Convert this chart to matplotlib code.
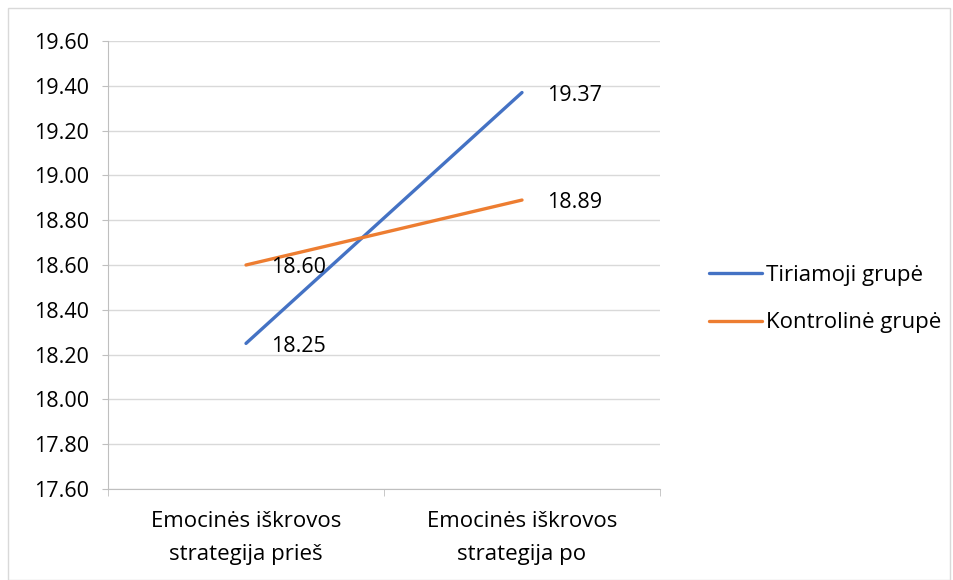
import matplotlib.pyplot as plt
from matplotlib.patches import Rectangle

plt.rcParams['font.family'] = ['Open Sans', 'DejaVu Sans']

categories = ['Emocinės iškrovos\nstrategija prieš', 'Emocinės iškrovos\nstrategija po']
tiriamoji = [18.25, 19.37]
kontroline = [18.60, 18.89]
series_names = ['Tiriamoji grupė', 'Kontrolinė grupė']
yticks = [17.60, 17.80, 18.00, 18.20, 18.40, 18.60, 18.80, 19.00, 19.20, 19.40, 19.60]

W, H = 954, 580
fig = plt.figure(figsize=(W / 100, H / 100), dpi=100)

# outer chart border
fig.patches.append(Rectangle((8 / W, 0), 942 / W, 572 / H, transform=fig.transFigure,
                             fill=False, edgecolor='#d9d9d9', linewidth=1))

ax = fig.add_axes([108 / W, (H - 489) / H, 552 / W, 448 / H])

x = [0.5, 1.5]
blue = '#4472C4'
orange = '#ED7D31'
ax.plot(x, tiriamoji, color=blue, linewidth=2.4, label=series_names[0], solid_capstyle='round')
ax.plot(x, kontroline, color=orange, linewidth=2.4, label=series_names[1], solid_capstyle='round')

for series in (tiriamoji, kontroline):
    for xi, v in zip(x, series):
        ax.annotate(f'{v:.2f}', (xi, v), xytext=(18, -2), textcoords='offset points',
                    ha='left', va='center', fontsize=15.5, color='black')

ax.set_xlim(0, 2)
ax.set_ylim(17.60, 19.60)
ax.set_yticks(yticks)
ax.set_yticklabels([f'{t:.2f}' for t in yticks])
ax.yaxis.grid(True, color='#d9d9d9', linewidth=1)
ax.set_axisbelow(True)

ax.set_xticks(x)
ax.set_xticklabels(categories, fontsize=16, linespacing=1.75)
ax.set_xticks([0, 1, 2], minor=True)
ax.tick_params(axis='x', which='major', length=0, pad=16)
ax.tick_params(axis='x', which='minor', length=5, color='#bfbfbf', direction='out')
ax.tick_params(axis='y', length=4.5, color='#bfbfbf', labelsize=15.5, pad=9)

for s in ('top', 'right'):
    ax.spines[s].set_visible(False)
for s in ('left', 'bottom'):
    ax.spines[s].set_color('#bfbfbf')

fig.legend(loc='center left', bbox_to_anchor=(698 / W, 1 - 299 / H), frameon=False,
           fontsize=16, handlelength=2.4, handletextpad=0.15, labelspacing=1.2, borderpad=0)

fig.savefig('out.png', dpi=100)
